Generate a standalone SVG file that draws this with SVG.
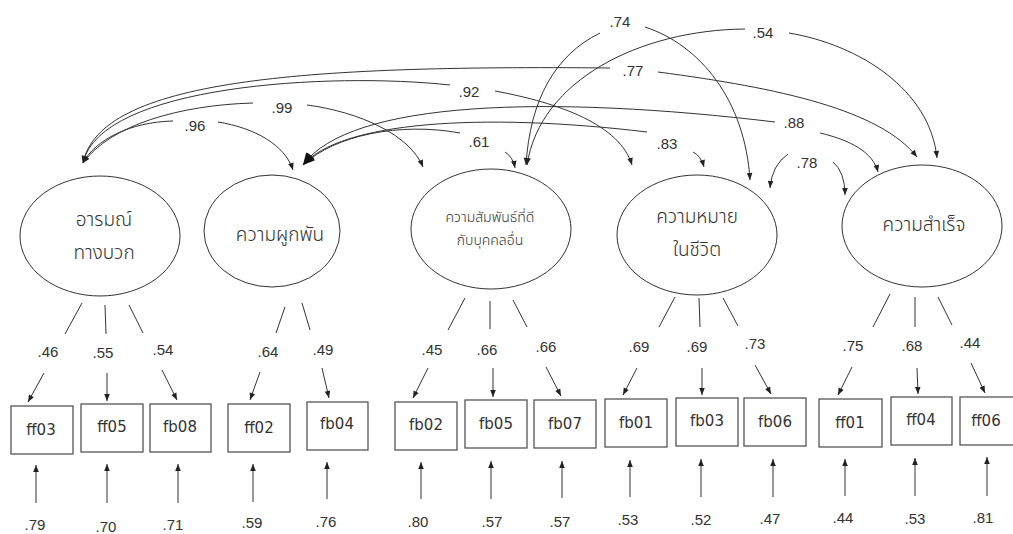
<svg xmlns="http://www.w3.org/2000/svg" width="1013" height="534" viewBox="0 0 1013 534">
<style>
.bg{fill:#fff}
.el{fill:#fff;stroke:#333;stroke-width:1}
.bx{fill:#fff;stroke:#555;stroke-width:1.3}
.ln{fill:none;stroke:#333;stroke-width:1}
.ar{fill:none;stroke:#333;stroke-width:1;marker-end:url(#ah)}
.dh{fill:none;stroke:#333;stroke-width:1;marker-start:url(#ah)}
.dl{fill:none;stroke:#333;stroke-width:1;marker-start:url(#ahL)}
.num{font-family:"Liberation Sans","DejaVu Sans",sans-serif;font-size:15px;fill:#333;text-anchor:middle}
.lbl{font-family:"DejaVu Sans","Liberation Sans",sans-serif;font-size:15px;fill:#333;text-anchor:middle}
.th{font-family:"Noto Sans Thai","Noto Sans","DejaVu Sans",sans-serif;font-size:19px;font-weight:300;fill:#333;text-anchor:middle}
.ths{font-family:"Noto Sans Thai","Noto Sans","DejaVu Sans",sans-serif;font-size:14px;font-weight:300;fill:#333;text-anchor:middle}
</style>
<defs>
<marker id="ah" viewBox="0 0 10 10" refX="10" refY="5" markerWidth="8" markerHeight="7" markerUnits="userSpaceOnUse" orient="auto-start-reverse"><path d="M0,1 L10,5 L0,9 z" fill="#222"/></marker>
<marker id="ahL" viewBox="0 0 10 10" refX="10" refY="5" markerWidth="14" markerHeight="12" markerUnits="userSpaceOnUse" orient="auto-start-reverse"><path d="M0,1 L10,5 L0,9 z" fill="#111"/></marker>
</defs>
<rect class="bg" x="0" y="0" width="1013" height="534"/>

<g id="f1"><ellipse class="el" cx="100" cy="236" rx="80" ry="60"/><text class="th" x="104" y="226">อารมณ์</text><text class="th" x="104" y="259">ทางบวก</text></g>
<g id="f2"><ellipse class="el" cx="272" cy="231" rx="68" ry="56"/><text class="th" x="280" y="241">ความผูกพัน</text></g>
<g id="f3"><ellipse class="el" cx="491" cy="229" rx="80" ry="60"/><text class="ths" x="490" y="222">ความสัมพันธ์ที่ดี</text><text class="ths" x="490" y="245">กับบุคคลอื่น</text></g>
<g id="f4"><ellipse class="el" cx="697" cy="235" rx="80" ry="60"/><text class="th" x="697" y="223">ความหมาย</text><text class="th" x="697" y="256">ในชีวิต</text></g>
<g id="f5"><ellipse class="el" cx="922" cy="226" rx="80" ry="61"/><text class="th" x="924" y="231">ความสำเร็จ</text></g>

<g id="ff03"><rect class="bx" x="11" y="406" width="62" height="48"/><text class="lbl" x="41" y="435">ff03</text></g>
<g id="ff05"><rect class="bx" x="81" y="404" width="62" height="48"/><text class="lbl" x="112" y="432">ff05</text></g>
<g id="fb08"><rect class="bx" x="150" y="404" width="61" height="48"/><text class="lbl" x="180" y="432">fb08</text></g>
<g id="ff02"><rect class="bx" x="228" y="404" width="62" height="48"/><text class="lbl" x="259" y="433">ff02</text></g>
<g id="fb04"><rect class="bx" x="307" y="402" width="61" height="48"/><text class="lbl" x="337" y="429">fb04</text></g>
<g id="fb02"><rect class="bx" x="395" y="402" width="62" height="48"/><text class="lbl" x="426" y="430">fb02</text></g>
<g id="fb05"><rect class="bx" x="465" y="400" width="62" height="48"/><text class="lbl" x="496" y="429">fb05</text></g>
<g id="fb07"><rect class="bx" x="534" y="400" width="62" height="48"/><text class="lbl" x="565" y="429">fb07</text></g>
<g id="fb01"><rect class="bx" x="605" y="399" width="62" height="48"/><text class="lbl" x="636" y="428">fb01</text></g>
<g id="fb03"><rect class="bx" x="676" y="398" width="62" height="48"/><text class="lbl" x="707" y="426">fb03</text></g>
<g id="fb06"><rect class="bx" x="744" y="398" width="62" height="48"/><text class="lbl" x="775" y="427">fb06</text></g>
<g id="ff01"><rect class="bx" x="819" y="399" width="63" height="48"/><text class="lbl" x="850" y="428">ff01</text></g>
<g id="ff04"><rect class="bx" x="891" y="397" width="61" height="48"/><text class="lbl" x="921" y="425">ff04</text></g>
<g id="ff06"><rect class="bx" x="960" y="397" width="62" height="48"/><text class="lbl" x="986" y="426">ff06</text></g>

<g id="connectors">
<path class="ln" d="M82,303 L65,334 M105,305 L106,334 M129,305 L143,333"/>
<path class="ln" d="M285,307 L276,333 M302,303 L310,330"/>
<path class="ln" d="M465,298 L448,330 M490,301 L490,329 M513,300 L527,327"/>
<path class="ln" d="M675,297 L659,327 M699,298 L700,327 M723,298 L738,326"/>
<path class="ln" d="M890,294 L873,327 M915,297 L915,327 M938,297 L952,325"/>
<path class="ar" d="M44,373 L28,402"/>
<path class="ar" d="M107,373 L107,401"/>
<path class="ar" d="M162,370 L177,400"/>
<path class="ar" d="M260,372 L250,400"/>
<path class="ar" d="M322,368 L329,398"/>
<path class="ar" d="M428,368 L413,398"/>
<path class="ar" d="M493,368 L493,397"/>
<path class="ar" d="M546,367 L561,396"/>
<path class="ar" d="M637,368 L623,395"/>
<path class="ar" d="M702,368 L702,395"/>
<path class="ar" d="M755,365 L771,394"/>
<path class="ar" d="M852,367 L838,395"/>
<path class="ar" d="M917,368 L918,394"/>
<path class="ar" d="M971,363 L985,393"/>
<path class="ar" d="M36,503 L36,465"/>
<path class="ar" d="M107,503 L107,464"/>
<path class="ar" d="M178,503 L178,464"/>
<path class="ar" d="M253,502 L253,464"/>
<path class="ar" d="M327,499 L327,462"/>
<path class="ar" d="M421,499 L421,462"/>
<path class="ar" d="M491,499 L491,461"/>
<path class="ar" d="M562,498 L562,461"/>
<path class="ar" d="M630,497 L630,460"/>
<path class="ar" d="M701,497 L701,459"/>
<path class="ar" d="M773,497 L773,459"/>
<path class="ar" d="M845,496 L845,459"/>
<path class="ar" d="M915,496 L915,458"/>
<path class="ar" d="M987,496 L987,457"/>
<path class="dh" d="M83,163 C95,140 130,122 173,121"/>
<path class="ar" d="M218,122 C255,128 285,145 293,170"/>
<path class="dh" d="M83,163 C110,125 180,105 253,103"/>
<path class="ar" d="M307,105 C360,112 410,135 423,167"/>
<path class="dh" d="M83,163 C100,85 330,72 450,85"/>
<path class="ar" d="M495,91 C560,103 620,125 632,165"/>
<path class="dh" d="M83,163 C100,80 300,65 610,68"/>
<path class="ar" d="M658,72 C780,88 880,110 917,157"/>
<path class="dl" d="M303,165 C335,135 400,122 460,133"/>
<path class="ar" d="M505,152 Q513,157 515,168"/>
<path class="dl" d="M303,165 C340,122 480,112 647,132"/>
<path class="ar" d="M693,152 Q701,156 704,167"/>
<path class="dl" d="M303,165 C350,100 550,95 775,122"/>
<path class="ar" d="M820,133 C850,140 873,152 878,172"/>
<path class="dh" d="M526,165 C530,100 555,55 600,33"/>
<path class="ar" d="M645,27 C700,45 745,100 750,180"/>
<path class="dh" d="M527,165 C540,80 640,30 745,29"/>
<path class="ar" d="M789,33 C860,45 930,90 937,158"/>
<path class="ar" d="M788,154 Q772,165 770,188"/>
<path class="ar" d="M833,162 Q845,172 845,195"/>
</g>

<g id="labels">
<text class="num" x="195" y="131">.96</text>
<text class="num" x="282" y="113">.99</text>
<text class="num" x="469" y="97">.92</text>
<text class="num" x="479" y="147">.61</text>
<text class="num" x="620" y="27">.74</text>
<text class="num" x="763" y="38">.54</text>
<text class="num" x="633" y="76">.77</text>
<text class="num" x="794" y="128">.88</text>
<text class="num" x="667" y="149">.83</text>
<text class="num" x="807" y="168">.78</text>

<text class="num" x="48" y="357">.46</text>
<text class="num" x="103" y="358">.55</text>
<text class="num" x="163" y="355">.54</text>
<text class="num" x="268" y="357">.64</text>
<text class="num" x="323" y="355">.49</text>
<text class="num" x="432" y="355">.45</text>
<text class="num" x="487" y="355">.66</text>
<text class="num" x="546" y="352">.66</text>
<text class="num" x="639" y="352">.69</text>
<text class="num" x="697" y="352">.69</text>
<text class="num" x="755" y="349">.73</text>
<text class="num" x="853" y="351">.75</text>
<text class="num" x="912" y="351">.68</text>
<text class="num" x="970" y="348">.44</text>

<text class="num" x="35" y="530">.79</text>
<text class="num" x="106" y="532">.70</text>
<text class="num" x="173" y="530">.71</text>
<text class="num" x="252" y="528">.59</text>
<text class="num" x="326" y="527">.76</text>
<text class="num" x="418" y="527">.80</text>
<text class="num" x="492" y="527">.57</text>
<text class="num" x="560" y="527">.57</text>
<text class="num" x="628" y="525">.53</text>
<text class="num" x="701" y="525">.52</text>
<text class="num" x="770" y="524">.47</text>
<text class="num" x="843" y="523">.44</text>
<text class="num" x="915" y="524">.53</text>
<text class="num" x="983" y="523">.81</text>
</g>
</svg>
